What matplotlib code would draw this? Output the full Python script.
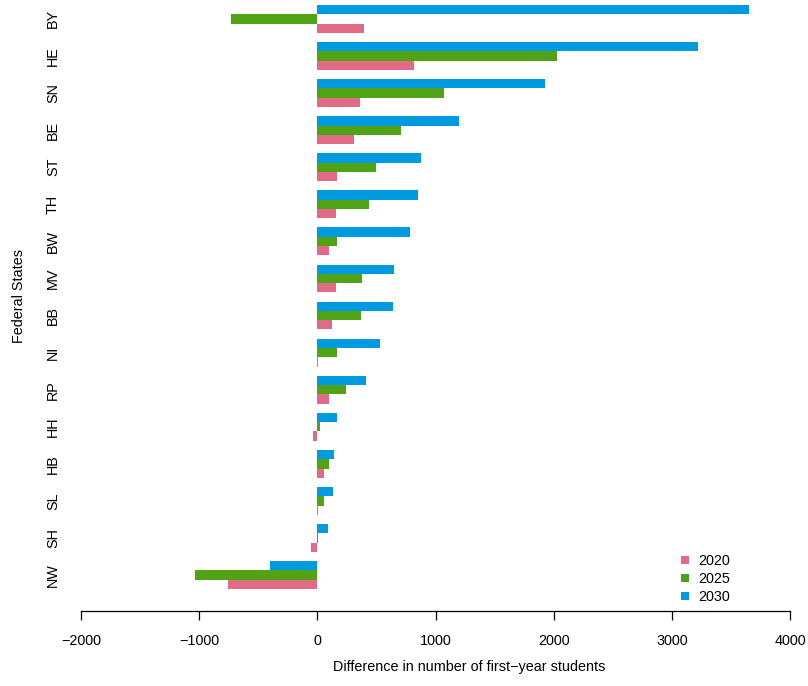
import matplotlib
matplotlib.use("Agg")
import matplotlib.pyplot as plt
from matplotlib.lines import Line2D

plt.rcParams['font.family'] = ['Liberation Sans', 'DejaVu Sans']

# Data (bottom to top)
states = ["NW", "SH", "SL", "HB", "HH", "RP", "NI", "BB", "MV", "BW", "TH", "ST", "BE", "SN", "HE", "BY"]
v2020 = [-760, -50, 5, 60, -35, 95, 8, 125, 160, 95, 160, 170, 312, 358, 820, 397]
v2025 = [-1032, 4, 60, 100, 26, 244, 170, 366, 379, 170, 440, 493, 711, 1068, 2024, -728]
v2030 = [-398, 87, 135, 144, 170, 414, 532, 637, 645, 781, 855, 881, 1195, 1923, 3218, 3650]
years = ["2020", "2025", "2030"]
colors = ["#E16A86", "#50A315", "#009ADE"]
xticks = [-2000, -1000, 0, 1000, 2000, 3000, 4000]

W, H = 808, 686
fs = 10.4
fig = plt.figure(figsize=(W / 100, H / 100), dpi=100)
ax = fig.add_axes([81 / W, (H - 611) / H, (790 - 81) / W, 611 / H])

series = [v2020, v2025, v2030]
for j, (vals, col) in enumerate(zip(series, colors)):
    ys = [i * 4 + 1 + j + 0.5 for i in range(len(states))]
    ax.barh(ys, vals, height=1.0, color=col, linewidth=0)

ax.set_xlim(-2000, 4000)
ax.set_ylim(-1.37, 64.54)
for s in ["top", "right", "left"]:
    ax.spines[s].set_visible(False)
ax.spines["bottom"].set_linewidth(0.9)
ax.spines["bottom"].set_bounds(-2000, 4000)
ax.set_xticks(xticks)
ax.set_xticklabels([("\u2212" + str(-t)) if t < 0 else str(t) for t in xticks])
ax.tick_params(axis="x", length=6.5, width=0.9, pad=10, labelsize=fs, colors="black")
ax.set_yticks([])

for i, st in enumerate(states):
    ax.text((53 - 81) / 709, i * 4 + 2.5, st, rotation=90, ha="center", va="center",
            fontsize=fs, transform=ax.get_yaxis_transform())

fig.text(469 / W, 1 - 667 / H, "Difference in number of first\u2212year students",
         ha="center", va="center", fontsize=fs)
fig.text(19 / W, 1 - 296 / H, "Federal States", rotation=90, ha="center", va="center",
         fontsize=fs)

handles = [Line2D([], [], marker="s", linestyle="none", markersize=5.2,
                  markerfacecolor=c, markeredgewidth=0) for c in colors]
leg = ax.legend(handles, years, loc="upper left", bbox_to_anchor=(679 / W, 1 - 554 / H),
                bbox_transform=fig.transFigure, frameon=False, fontsize=fs,
                handlelength=0.8, handletextpad=0.5, labelspacing=0.29, borderpad=0,
                borderaxespad=0)

fig.savefig("out.png", dpi=100)
